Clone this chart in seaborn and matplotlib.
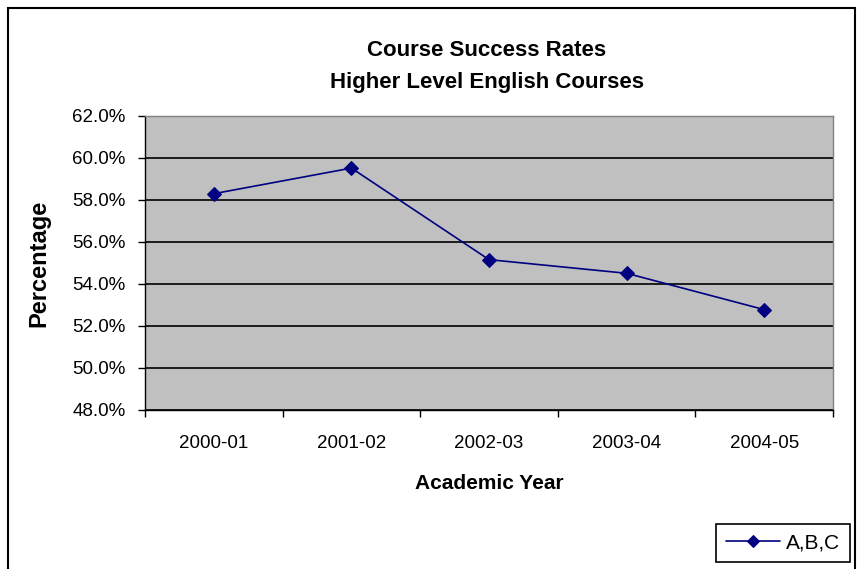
import matplotlib
matplotlib.use("Agg")
import matplotlib.pyplot as plt
import seaborn as sns
import numpy as np
import pandas as pd
from matplotlib.ticker import FixedLocator, FuncFormatter
from matplotlib.patches import Rectangle

years = ["2000-01", "2001-02", "2002-03", "2003-04", "2004-05"]
rates = [58.3, 59.52, 55.16, 54.51, 52.78]
series_name = "A,B,C"

sns.set_theme(style="white")
plt.rcParams['font.family'] = ['Liberation Sans', 'DejaVu Sans']
plt.rcParams['text.color'] = 'black'
plt.rcParams['axes.labelcolor'] = 'black'
plt.rcParams['xtick.color'] = 'black'
plt.rcParams['ytick.color'] = 'black'

df = pd.DataFrame({"idx": np.arange(len(years)), "rate": rates, "series": series_name})

fig = plt.figure(figsize=(8.61, 5.69), dpi=100)
fig.patch.set_facecolor("white")
fig.patches.append(Rectangle((8/861, -0.1), (855-8)/861, 1.1 - 8/569, transform=fig.transFigure,
                             fill=False, edgecolor="black", linewidth=1.5, zorder=0))

ax = fig.add_axes([145/861, 1-410/569, (833-145)/861, (410-116)/569])
ax.set_facecolor("#C0C0C0")

sns.lineplot(data=df, x="idx", y="rate", hue="series", palette=["#000080"], marker="D",
             markersize=7, linewidth=1.2, markeredgecolor="#000080", ax=ax)

ax.set_ylim(48, 62)
ax.set_xlim(-0.5, len(years) - 0.5)
ax.yaxis.set_major_locator(FixedLocator(np.arange(48, 62.01, 2)))
ax.yaxis.set_major_formatter(FuncFormatter(lambda v, p: f"{v:.1f}%"))
ax.grid(axis="y", color="black", linewidth=1.2)
ax.set_axisbelow(True)

ax.xaxis.set_major_locator(FixedLocator(np.arange(-0.5, len(years), 1.0)))
ax.xaxis.set_major_formatter(FuncFormatter(lambda v, p: ""))
ax.set_xticks(np.arange(len(years)), labels=years, minor=True)
ax.tick_params(axis="x", which="minor", length=0, labelsize=13.5, pad=18, labelcolor="black")
ax.tick_params(axis="x", which="major", length=5, width=1, color="black", direction="out", bottom=True)
ax.tick_params(axis="y", length=5, width=1, color="black", direction="out", left=True, labelsize=13.5,
               pad=9, labelcolor="black")

for s in ["top", "right"]:
    ax.spines[s].set_color("#808080")
    ax.spines[s].set_linewidth(1)
for s in ["left", "bottom"]:
    ax.spines[s].set_color("black")
    ax.spines[s].set_linewidth(1)

ax.set_xlabel("Academic Year", fontsize=15, fontweight="bold", labelpad=16, color="black")
ax.set_ylabel("Percentage", fontsize=17, fontweight="bold", labelpad=16, color="black")

fig.text(487/861, 1-50/569, "Course Success Rates", ha="center", va="center", fontsize=16, fontweight="bold")
fig.text(487/861, 1-83/569, "Higher Level English Courses", ha="center", va="center", fontsize=16, fontweight="bold")

leg = ax.legend(loc="center", bbox_to_anchor=(783/861, 1-543/569), bbox_transform=fig.transFigure,
                frameon=True, fontsize=15, handlelength=2.6, borderpad=0.45, handletextpad=0.3,
                markerscale=0.85)
leg.get_frame().set_edgecolor("black")
leg.get_frame().set_linewidth(1.2)
leg.get_frame().set_boxstyle("square", pad=0)
leg.get_frame().set_facecolor("white")
leg.get_frame().set_alpha(1)

fig.savefig("out.png", dpi=100)
